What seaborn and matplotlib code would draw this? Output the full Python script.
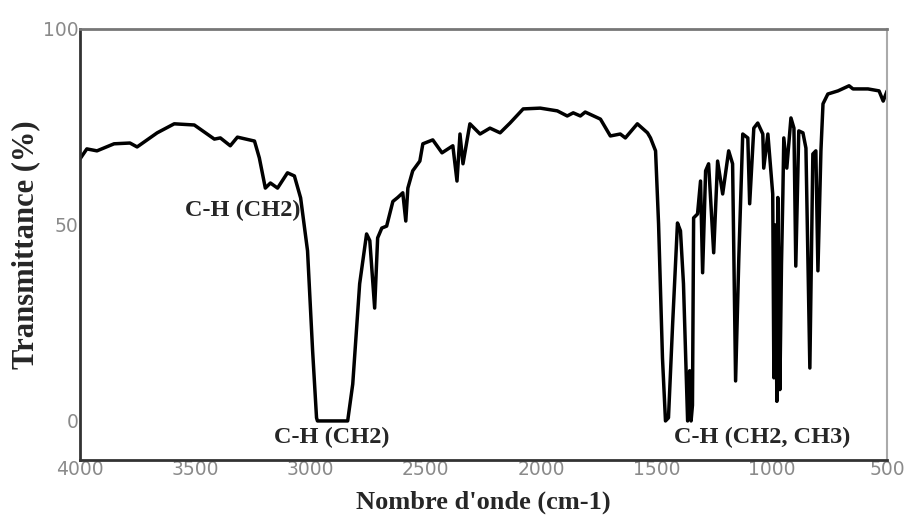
import pandas as pd
import matplotlib
matplotlib.use('Agg')
import matplotlib.pyplot as plt
import seaborn as sns

# spectre IR
wavenumber = [4000, 3970, 3926, 3852, 3783, 3752, 3665, 3591, 3504, 3417, 3391, 3348, 3317,
              3243, 3222, 3196, 3174, 3143, 3100, 3070, 3043, 3013, 2991, 2974, 2970, 2839,
              2817, 2787, 2757, 2743, 2722, 2709, 2691, 2670, 2643, 2622, 2600, 2587, 2578,
              2557, 2526, 2513, 2470, 2430, 2383, 2365, 2352, 2339, 2309, 2265, 2222, 2178,
              2135, 2078, 2004, 1930, 1887, 1861, 1830, 1809, 1743, 1700, 1657, 1635, 1583,
              1539, 1526, 1504, 1491, 1474, 1461, 1448, 1430, 1409, 1396, 1383, 1365, 1356,
              1350, 1344, 1339, 1322, 1309, 1300, 1287, 1274, 1252, 1235, 1213, 1187, 1170,
              1157, 1143, 1126, 1104, 1096, 1078, 1061, 1039, 1035, 1017, 996, 991, 985, 978,
              974, 965, 958, 952, 948, 935, 917, 904, 896, 883, 865, 852, 835, 822, 809, 800,
              787, 778, 757, 713, 665, 648, 583, 535, 517, 500]
transmittance = [66.8, 69.4, 68.9, 70.7, 70.9, 69.9, 73.5, 75.8, 75.5, 71.9, 72.2, 70.2, 72.4,
                 71.4, 67.1, 59.4, 60.7, 59.4, 63.3, 62.5, 56.9, 43.4, 17.9, 0.8, 0, 0,
                 9.4, 35, 47.7, 46, 28.8, 46.7, 49.2, 49.7, 56, 57, 58.2, 51, 59.4,
                 63.8, 66.3, 70.7, 71.7, 68.4, 70.2, 61.2, 73.2, 65.6, 75.8, 73.2, 74.7, 73.5,
                 76, 79.6, 79.8, 79.1, 77.8, 78.6, 77.8, 78.8, 77, 72.7, 73.2, 72.2, 75.8,
                 73.5, 72.2, 68.9, 50.3, 16, 0, 0.8, 24.7, 50.5, 48.5, 35, 0, 12.8,
                 0, 4, 51.8, 52.8, 61.2, 37.8, 63.8, 65.6, 42.9, 66.3, 57.9, 68.9, 65.6,
                 10.2, 41.6, 73.2, 72.2, 55.4, 74.7, 76, 73.2, 64.5, 73.2, 57.9, 11, 50, 5,
                 57, 8, 40, 57.9, 72.2, 64.5, 77.3, 74.7, 39.5, 74, 73.5, 69.6, 13.5, 68.1, 68.9, 38.3,
                 68.9, 80.9, 83.4, 84.2, 85.5, 84.7, 84.7, 84.2, 81.6, 84.2]

x_ticks = [4000, 3500, 3000, 2500, 2000, 1500, 1000, 500]
y_ticks = [0, 50, 100]

labels = ['C-H (CH2)', 'C-H (CH2)', 'C-H (CH2, CH3)']
label_x = [3296, 2909, 1043]
label_y = [53.6, -4.3, -4.3]

df = pd.DataFrame({'wn': wavenumber, 'T': transmittance})

sns.set_style('white')
fig = plt.figure(figsize=(9.08, 5.17), dpi=100)
ax = fig.add_axes([0.088, 0.110, 0.889, 0.834])

sns.lineplot(data=df, x='wn', y='T', sort=False, estimator=None, color='black', linewidth=2.5, ax=ax)

ax.set_xlim(4000, 500)
ax.set_ylim(-10, 100)
ax.set_xticks(x_ticks)
ax.set_yticks(y_ticks)
ax.set_xticklabels([str(v) for v in x_ticks], color='#8a8a8a', fontsize=13.5, family='DejaVu Sans')
ax.set_yticklabels([str(v) for v in y_ticks], color='#8a8a8a', fontsize=13.5, family='DejaVu Sans')
ax.tick_params(axis='both', length=0)
ax.tick_params(axis='x', pad=0)
ax.tick_params(axis='y', pad=1)

for side, c, lw in [('left', '#333333', 2), ('bottom', '#333333', 2), ('top', '#777777', 2), ('right', '#aaaaaa', 1.5)]:
    ax.spines[side].set_visible(True)
    ax.spines[side].set_color(c)
    ax.spines[side].set_linewidth(lw)

ax.set_xlabel("Nombre d'onde (cm-1)", family='Liberation Serif', fontweight='bold', fontsize=19, labelpad=8)
ax.set_ylabel('Transmittance (%)', family='Liberation Serif', fontweight='bold', fontsize=22, labelpad=2)

for t, x, y in zip(labels, label_x, label_y):
    ax.text(x, y, t, ha='center', va='center', family='Liberation Serif', fontweight='bold', fontsize=17.5)

fig.savefig('out.png', dpi=100)
